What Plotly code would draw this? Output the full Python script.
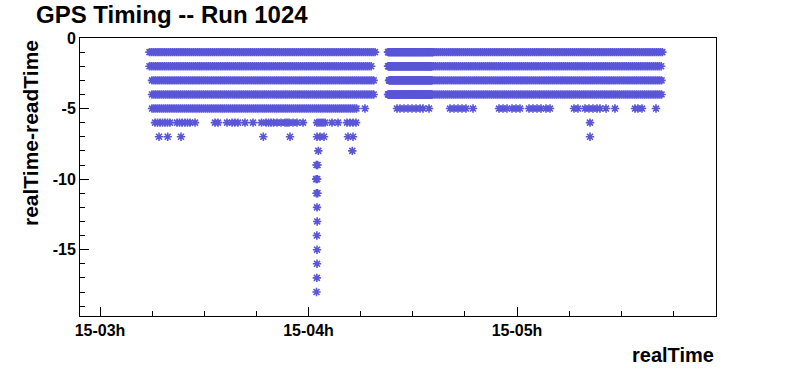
import numpy as np
import pandas as pd
import plotly.graph_objects as go

# ---- data (times are minutes after 03:00 on day 15) ----
BASE_TIME = "2010-06-15 03:00:00"

# dense sampling segments per row: (start_min, end_min, sample_spacing_min)
ROW_M1_SEGMENTS = [(14.24, 79.14, 0.55), (82.88, 95.83, 0.15), (95.83, 162.02, 0.55)]
ROW_M2_SEGMENTS = [(14.24, 78.48, 0.55), (82.88, 95.5, 0.15), (95.5, 162.02, 0.55)]
ROW_M3_SEGMENTS = [(14.96, 79.14, 0.55), (83.17, 95.6, 0.15), (95.6, 162.02, 0.55)]
ROW_M4_SEGMENTS = [(14.96, 79.14, 0.55), (82.88, 95.6, 0.15), (95.6, 162.02, 0.55)]
ROW_M5_SEGMENTS = [(14.96, 74.24, 0.55)]

ROW_M5_POINTS = [76.26, 85.47, 86.33, 87.48, 88.63, 89.78, 90.94, 92.09, 92.95, 94.68,
                 100.72, 101.87, 103.02, 104.17, 105.32, 107.34, 114.82, 115.97, 117.12,
                 118.56, 119.71, 120.86, 123.45, 124.60, 125.76, 126.91, 128.35, 129.50,
                 136.40, 137.55, 139.57, 140.72, 141.87, 143.02, 143.89, 145.61, 148.20,
                 153.96, 154.82, 155.97, 160.00]
ROW_M6_POINTS = [15.83, 16.55, 17.27, 17.99, 18.70, 19.42, 20.14, 22.16, 22.88, 23.60,
                 24.46, 25.18, 25.90, 27.34, 33.09, 33.96, 36.55, 37.99, 38.85, 39.71,
                 41.73, 44.03, 46.47, 47.77, 48.49, 49.21, 49.93, 50.94, 52.09, 53.24,
                 53.81, 54.39, 55.54, 56.69, 58.42, 62.45, 63.02, 63.60, 64.17, 64.75,
                 66.76, 68.49, 71.08, 71.94, 72.81, 73.67, 141.01]
ROW_M7_POINTS = [16.98, 19.48, 23.31, 46.99, 54.68, 62.45, 63.31, 64.46, 71.37, 72.81, 141.01]
ROW_M8_POINTS = [62.82, 72.60]
COLUMN_LEVELS = [-9, -9, -10, -10, -11, -11, -12, -13, -14, -15, -16, -17, -18]
COLUMN_TIMES = [62.30, 62.60, 62.20, 62.50, 62.30, 62.60, 62.45, 62.50, 62.40, 62.45, 62.45, 62.40, 62.30]

Y_TICK_VALUES = [0, -5, -10, -15]
Y_TICK_LABELS = ["0", "-5", "-10", "-15"]

# ---- build point lists ----
def seg_times(segments):
    out = []
    for s, e, st in segments:
        out.extend(np.arange(s, e + 1e-9, st).tolist())
    return out

times, levels = [], []
for lvl, segs in [(-1, ROW_M1_SEGMENTS), (-2, ROW_M2_SEGMENTS), (-3, ROW_M3_SEGMENTS),
                  (-4, ROW_M4_SEGMENTS), (-5, ROW_M5_SEGMENTS)]:
    t = seg_times(segs)
    times += t
    levels += [lvl] * len(t)
for lvl, pts in [(-5, ROW_M5_POINTS), (-6, ROW_M6_POINTS), (-7, ROW_M7_POINTS), (-8, ROW_M8_POINTS)]:
    times += pts
    levels += [lvl] * len(pts)
times += COLUMN_TIMES
levels += COLUMN_LEVELS

base = pd.Timestamp(BASE_TIME)
xdates = [base + pd.Timedelta(minutes=float(m)) for m in times]

MARKER_COLOR = "#5a56d8"

fig = go.Figure()
fig.add_trace(go.Scatter(
    x=xdates, y=levels, mode="markers",
    marker=dict(symbol="asterisk-open", size=7, color=MARKER_COLOR,
                line=dict(width=1.6, color=MARKER_COLOR)),
    showlegend=False, hoverinfo="skip",
))

x_lo = base - pd.Timedelta(minutes=5.76)
x_hi = base + pd.Timedelta(minutes=177.27)

FONT = "Liberation Sans, Arial, sans-serif"

fig.update_layout(
    width=796, height=372,
    margin=dict(l=80, r=80, t=38, b=56, autoexpand=False),
    paper_bgcolor="white", plot_bgcolor="white",
    title=dict(text="GPS Timing -- Run 1024", x=36 / 796, xanchor="left", xref="container",
               y=1 - 15 / 372, yanchor="middle", yref="container",
               font=dict(family=FONT, size=24, color="black", weight="bold")),
    xaxis=dict(
        type="date", range=[x_lo, x_hi],
        tickmode="linear", tick0=BASE_TIME, dtick=3600000, tickformat="%d-%Hh",
        ticks="inside", ticklen=9, tickcolor="black", tickwidth=1,
        minor=dict(ticks="inside", ticklen=5, tickcolor="black", dtick=900000, tick0=BASE_TIME, showgrid=False),
        showline=True, linecolor="black", linewidth=1, mirror=True,
        showgrid=False, zeroline=False,
        tickfont=dict(family=FONT, size=16, color="black", weight="bold"),
    ),
    yaxis=dict(
        range=[-19.7, 0],
        tickmode="array", tickvals=Y_TICK_VALUES, ticktext=Y_TICK_LABELS,
        ticks="inside", ticklen=9, tickcolor="black", tickwidth=1,
        minor=dict(ticks="inside", ticklen=5, tickcolor="black", dtick=1, tick0=0, showgrid=False),
        showline=True, linecolor="black", linewidth=1, mirror=True,
        showgrid=False, zeroline=False,
        tickfont=dict(family=FONT, size=16, color="black", weight="bold"),
    ),
    annotations=[
        dict(text="realTime-readTime", textangle=-90, xref="paper", yref="paper",
             x=(30 - 80) / 636, y=1.0, xanchor="center", yanchor="top", showarrow=False,
             font=dict(family=FONT, size=21, color="black", weight="bold")),
        dict(text="realTime", xref="paper", yref="paper",
             x=1.0, y=(316 - 355) / 278, xanchor="right", yanchor="middle", showarrow=False,
             font=dict(family=FONT, size=20, color="black", weight="bold")),
    ],
)

fig.write_html("out.html", config={"displayModeBar": False},
               post_script="document.body.style.margin='0px';document.body.style.overflow='hidden';")
